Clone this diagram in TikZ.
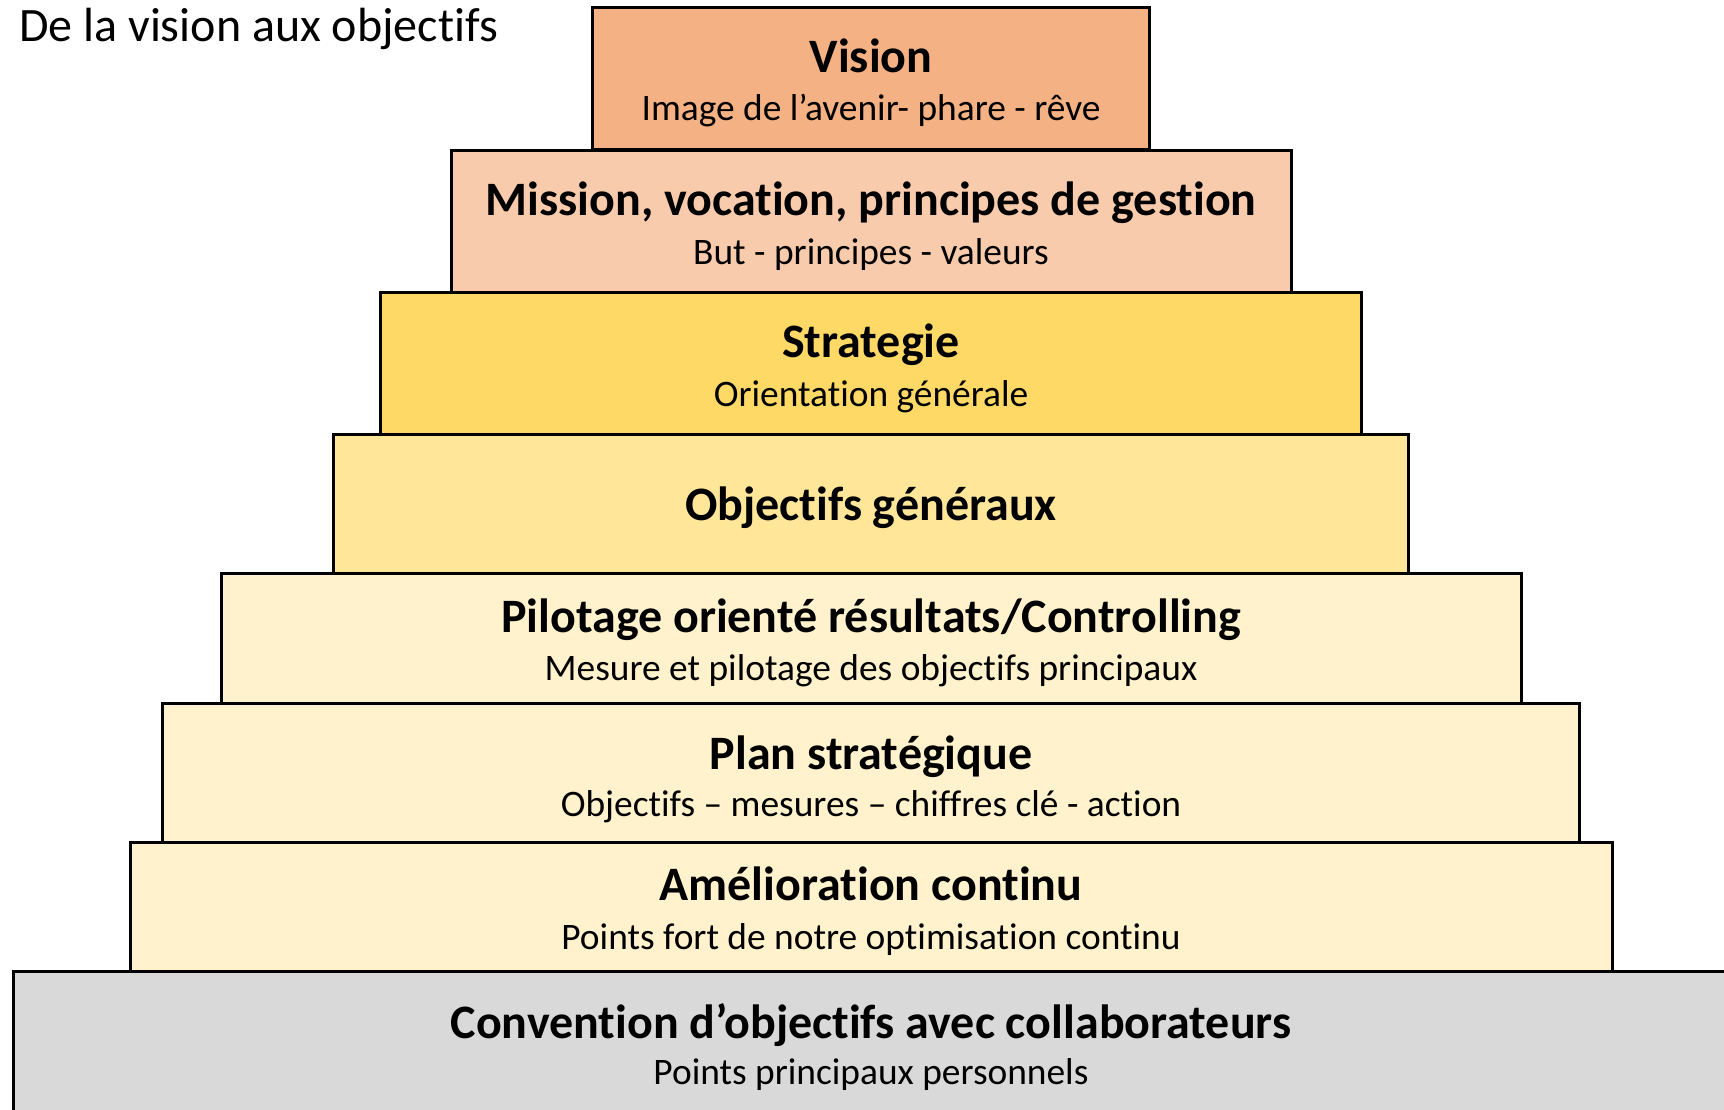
\documentclass[tikz,border=0pt]{standalone}
\usepackage{fontspec}
\setmainfont{Carlito}[Ligatures={NoCommon}]
\definecolor{cVision}{HTML}{F4B183}
\definecolor{cMission}{HTML}{F8CBAD}
\definecolor{cStrat}{HTML}{FFD966}
\definecolor{cObj}{HTML}{FFE699}
\definecolor{cLight}{HTML}{FFF2CC}
\definecolor{cGrey}{HTML}{D9D9D9}
\begin{document}
\begin{tikzpicture}[x=1pt,y=-1pt,
  tier/.style={draw=black, line width=3pt},
  ttl/.style={anchor=base, inner sep=0pt, font=\fontsize{48}{54}\selectfont\bfseries},
  sub/.style={anchor=base, inner sep=0pt, font=\fontsize{37.4}{42}\selectfont},
  hdr/.style={anchor=base west, inner sep=0pt, font=\fontsize{48}{54}\selectfont}]
\useasboundingbox (0,0) rectangle (1724,1109);
\clip (0,0) rectangle (1724,1109);
\fill[white] (0,0) rectangle (1724,1109);
% boxes
\path[tier, fill=cVision] (592,7) rectangle (1149,149);
\path[tier, fill=cMission] (451,150) rectangle (1291,292);
\path[tier, fill=cStrat] (380,292) rectangle (1361,434);
\path[tier, fill=cObj] (333,434) rectangle (1408,573);
\path[tier, fill=cLight] (221,573) rectangle (1521,703);
\path[tier, fill=cLight] (162,703) rectangle (1579,845);
\path[tier, fill=cLight] (130,842) rectangle (1612,971);
\path[tier, fill=cGrey] (13,971) rectangle (1760,1140);
% texts
\node[hdr] (hdr) at (19,41) {De la vision aux objectifs};
\node[ttl] (visionT) at (871,72) {Vision};
\node[sub] (visionS) at (871,120) {Image de l’avenir- phare - rêve};
\node[ttl] (missionT) at (871,215) {Mission, vocation, principes de gestion};
\node[sub] (missionS) at (871,264) {But - principes - valeurs};
\node[ttl] (stratT) at (871,357) {Strategie};
\node[sub] (stratS) at (871,406) {Orientation générale};
\node[ttl] (objT) at (871,520) {Objectifs généraux};
\node[ttl] (pilT) at (871,632) {Pilotage orienté résultats/Controlling};
\node[sub] (pilS) at (871,680) {Mesure et pilotage des objectifs principaux};
\node[ttl] (planT) at (871,769) {Plan stratégique};
\node[sub] (planS) at (871,816) {Objectifs – mesures – chiffres clé - action};
\node[ttl] (amT) at (871,900) {Amélioration continu};
\node[sub] (amS) at (871,949) {Points fort de notre optimisation continu};
\node[ttl] (convT) at (871,1038) {Convention d’objectifs avec collaborateurs};
\node[sub] (convS) at (871,1084) {Points principaux personnels};
\end{tikzpicture}
\end{document}
